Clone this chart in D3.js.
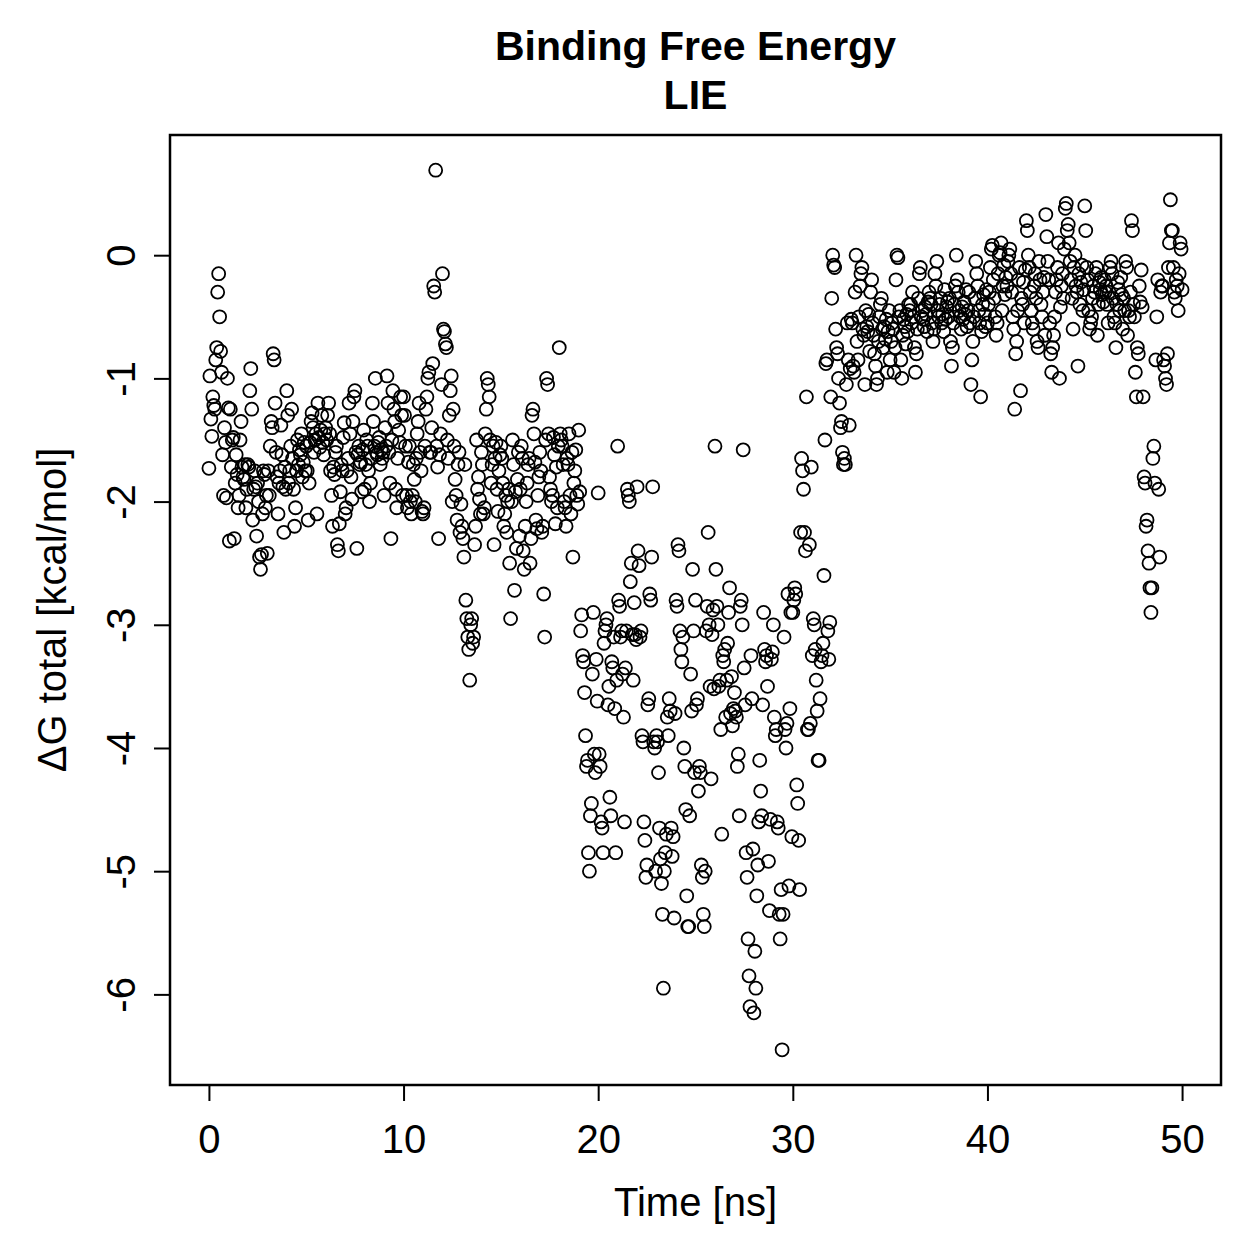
<!doctype html>
<html lang="en">
  <head>
    <meta charset="utf-8">
    <title>Binding Free Energy - LIE</title>
    <script src="https://d3js.org/d3.v7.min.js"></script>
    <style>
      body { margin: 0; background: #fff; }
      text { font-family: "Liberation Sans", Arial, Helvetica, sans-serif; fill: #000; }
    </style>
  </head>
  <body>
    <div id="chart"></div>
    <script>
      // time axis: one frame every 0.05 ns, 0 .. 50 ns
      const timeStep = 0.05;
      const xTicks = [0, 10, 20, 30, 40, 50];
      const yTicks = [-6, -5, -4, -3, -2, -1, 0];

      // dG total [kcal/mol], one row per ns (20 frames each)
      const deltaG = [
        -1.73, -0.98, -1.33, -1.47, -1.15, -1.22, -1.25, -0.85, -0.75, -0.30, -0.15, -0.50, -0.78, -0.95, -1.62, -1.95, -1.40, -1.52, -1.97, -1.00,
        -1.24, -2.32, -1.25, -1.72, -1.50, -1.48, -2.30, -1.85, -1.62, -1.78, -2.05, -1.95, -1.50, -1.35, -1.72, -1.80, -1.82, -1.70, -2.05, -1.90,
        -1.70, -1.72, -1.10, -0.92, -1.25, -2.15, -1.90, -1.75, -1.88, -2.28, -1.85, -2.00, -2.45, -2.55, -2.43, -2.10, -1.75, -1.78, -2.05, -1.95,
        -2.42, -1.75, -1.95, -1.55, -1.35, -1.40, -0.80, -0.85, -1.20, -1.60, -1.80, -2.10, -1.85, -1.75, -1.38, -1.62, -1.88, -2.25, -1.72, -1.90,
        -1.10, -1.30, -1.85, -1.75, -1.55, -1.25, -1.65, -1.90, -2.20, -2.05, -1.75, -1.50, -1.70, -1.58, -1.62, -1.45, -1.80, -1.68, -1.52, -1.75,
        -1.55, -1.75, -2.15, -1.85, -1.52, -1.35, -1.28, -1.40, -1.60, -1.50, -1.45, -2.10, -1.20, -1.48, -1.56, -1.42, -1.30, -1.52, -1.62, -1.45,
        -1.40, -1.50, -1.30, -1.20, -1.45, -1.75, -1.95, -2.20, -1.72, -1.78, -1.60, -1.55, -2.35, -2.40, -2.18, -1.92, -1.70, -1.75, -1.48, -1.36,
        -2.10, -2.05, -1.75, -1.65, -1.20, -1.45, -1.80, -1.98, -1.35, -1.15, -1.10, -1.60, -2.38, -1.62, -1.55, -1.70, -1.68, -1.92, -1.58, -1.42,
        -1.90, -1.70, -1.50, -1.55, -1.75, -2.00, -1.85, -1.65, -1.20, -1.35, -1.55, -1.00, -1.60, -1.62, -1.52, -1.48, -1.70, -1.58, -1.65, -1.60,
        -1.95, -1.40, -1.55, -0.98, -1.20, -1.60, -1.85, -2.30, -1.50, -1.10, -1.25, -1.35, -1.90, -2.05, -1.65, -1.42, -1.52, -1.15, -1.30, -1.95,
        -1.15, -1.30, -1.55, -1.95, -2.05, -1.68, -1.55, -2.00, -2.10, -1.95, -1.70, -1.82, -2.00, -1.65, -1.45, -1.35, -1.20, -1.60, -1.75, -2.08,
        -2.10, -2.05, -1.55, -1.25, -1.15, -1.00, -0.95, -1.60, -1.60, -1.40, -0.88, -0.25, -0.30, 0.69, -1.55, -1.72, -2.30, -1.62, -1.45, -1.05,
        -0.15, -0.60, -0.62, -0.72, -0.75, -1.50, -1.65, -1.30, -1.10, -0.98, -2.00, -1.25, -1.55, -1.82, -1.95, -2.15, -1.70, -1.60, -2.25, -2.02,
        -2.20, -2.30, -2.45, -1.70, -2.80, -2.95, -3.10, -3.20, -3.45, -3.00, -2.95, -3.15, -3.10, -2.35, -2.20, -1.50, -1.90, -1.80, -1.98, -2.10,
        -1.60, -1.70, -2.10, -2.05, -1.45, -1.25, -1.00, -1.05, -1.15, -1.50, -1.85, -1.70, -1.55, -2.35, -1.65, -1.52, -1.90, -2.08, -1.75, -1.62,
        -1.55, -1.65, -1.85, -2.20, -2.10, -1.95, -2.25, -2.00, -1.90, -2.50, -2.95, -2.00, -1.50, -1.70, -2.72, -1.92, -2.38, -1.82, -1.60, -2.28,
        -1.90, -1.55, -1.65, -2.40, -2.55, -2.20, -2.00, -1.85, -1.70, -1.65, -2.50, -2.30, -1.30, -1.25, -1.45, -1.68, -2.15, -2.22, -1.95, -1.80,
        -1.60, -1.75, -2.25, -2.20, -2.75, -3.10, -1.50, -1.00, -1.05, -1.45, -1.80, -1.90, -2.00, -1.95, -1.48, -1.62, -2.18, -1.72, -2.05, -1.55,
        -0.75, -1.45, -1.50, -1.55, -1.70, -2.00, -2.05, -2.20, -1.65, -1.70, -1.45, -1.95, -2.10, -1.60, -2.45, -1.85, -1.75, -1.58, -1.95, -2.02,
        -1.42, -1.92, -3.05, -2.92, -3.25, -3.30, -3.55, -3.90, -4.15, -4.10, -4.85, -5.00, -4.55, -4.45, -3.40, -2.90, -4.05, -4.20, -3.28, -3.62,
        -1.93, -4.05, -4.15, -4.60, -4.65, -4.85, -3.15, -3.05, -3.00, -2.95, -3.65, -3.50, -4.40, -4.55, -3.30, -3.35, -3.10, -3.68, -4.85, -3.45,
        -1.55, -2.80, -2.85, -3.10, -3.05, -3.40, -3.75, -4.60, -3.35, -3.05, -1.90, -1.95, -2.00, -2.65, -2.50, -3.08, -3.45, -2.82, -3.08, -3.12,
        -1.88, -2.40, -2.52, -3.10, -3.05, -3.90, -3.95, -4.60, -4.75, -5.05, -4.95, -3.65, -3.60, -2.75, -2.80, -2.45, -1.88, -3.95, -4.00, -5.00,
        -3.90, -3.95, -4.20, -4.65, -4.90, -5.10, -5.35, -5.95, -5.00, -4.85, -4.70, -3.75, -3.90, -3.60, -3.70, -4.65, -4.88, -4.72, -5.38, -3.72,
        -2.80, -2.85, -2.35, -2.40, -3.05, -3.20, -3.30, -3.10, -4.00, -4.15, -4.50, -5.20, -5.45, -5.45, -4.55, -3.40, -3.70, -2.55, -3.05, -4.20,
        -2.80, -3.65, -3.60, -4.35, -4.15, -4.20, -4.95, -5.05, -5.35, -5.45, -5.00, -3.05, -2.85, -2.25, -3.00, -3.50, -4.25, -3.08, -2.88, -3.52,
        -1.55, -2.55, -2.85, -3.00, -3.50, -3.45, -3.85, -4.70, -3.25, -3.30, -3.20, -3.75, -3.45, -3.15, -2.90, -2.70, -3.72, -3.42, -3.82, -3.68,
        -3.55, -3.70, -3.75, -4.15, -4.05, -4.55, -2.85, -2.80, -3.00, -1.58, -3.35, -3.65, -4.85, -5.05, -5.55, -5.85, -6.10, -3.25, -3.60, -4.82,
        -6.15, -5.65, -5.95, -5.20, -4.95, -4.60, -4.10, -4.35, -4.55, -3.65, -2.90, -3.20, -3.30, -3.25, -3.50, -4.92, -5.32, -4.58, -3.28, -3.22,
        -3.00, -3.75, -3.90, -3.85, -4.60, -4.65, -5.35, -5.55, -5.15, -6.45, -5.35, -3.10, -3.85, -4.00, -3.80, -2.75, -5.12, -3.68, -2.90, -4.72,
        -2.90, -2.80, -2.70, -2.75, -4.30, -4.45, -4.75, -5.15, -2.25, -1.65, -1.75, -1.90, -2.25, -2.40, -1.15, -3.85, -3.85, -2.35, -3.80, -1.72,
        -3.25, -2.95, -3.00, -3.20, -3.45, -3.70, -4.10, -4.10, -3.60, -3.30, -3.25, -3.15, -2.60, -1.50, -0.88, -0.85, -3.05, -3.28, -2.98, -1.15,
        -0.35, 0.00, -0.08, -0.10, -0.60, -0.75, -0.80, -1.00, -1.20, -1.40, -1.35, -1.60, -1.70, -1.65, -1.70, -1.05, -0.55, -0.85, -1.38, -0.92,
        -0.52, -0.55, -0.90, -0.95, -0.30, 0.00, -0.70, -0.85, -0.50, -0.25, -0.15, -0.10, -0.60, -0.65, -1.05, -0.45, -0.58, -0.62, -0.48, -0.78,
        -0.30, -0.20, -0.55, -0.65, -0.80, -0.90, -1.05, -1.00, -0.70, -0.50, -0.40, -0.35, -0.60, -0.75, -0.58, -0.68, -0.52, -0.95, -0.62, -0.45,
        -0.85, -0.70, -0.55, -0.60, -0.95, -0.75, -0.20, 0.00, -0.02, -0.50, -0.45, -0.85, -1.00, -0.65, -0.52, -0.58, -0.72, -0.48, -0.62, -0.40,
        -0.45, -0.40, -0.55, -0.30, -0.50, -0.75, -0.95, -0.80, -0.60, -0.35, -0.15, -0.10, -0.50, -0.45, -0.52, -0.58, -0.42, -0.48, -0.62, -0.38,
        -0.30, -0.35, -0.40, -0.55, -0.70, -0.60, -0.15, -0.25, -0.05, -0.45, -0.50, -0.40, -0.35, -0.55, -0.48, -0.62, -0.28, -0.52, -0.42, -0.38,
        -0.50, -0.35, -0.70, -0.90, -0.75, -0.55, -0.40, -0.25, 0.00, -0.20, -0.30, -0.45, -0.50, -0.60, -0.42, -0.52, -0.38, -0.48, -0.28, -0.58,
        -0.45, -0.30, -0.55, -1.05, -0.85, -0.70, -0.50, -0.35, -0.05, -0.15, -0.25, -0.45, -0.55, -1.15, -0.62, -0.40, -0.32, -0.48, -0.58, -0.28,
        -0.55, -0.40, -0.30, -0.10, 0.05, 0.08, -0.20, -0.35, -0.50, -0.65, -0.55, -0.15, 0.00, 0.02, 0.10, -0.45, -0.25, -0.08, -0.32, -0.18,
        -0.25, -0.05, 0.00, 0.05, -0.15, -0.30, -0.50, -0.60, -1.25, -0.80, -0.70, -0.45, -0.20, -0.10, -1.10, -0.35, -0.40, -0.22, -0.55, -0.12,
        0.28, 0.20, 0.00, -0.10, -0.30, -0.45, -0.55, -0.60, -0.25, -0.15, -0.35, -0.70, -0.75, -0.05, -0.20, -0.40, -0.50, -0.30, -0.18, -0.65,
        0.33, 0.15, -0.05, -0.20, -0.55, -0.80, -0.95, -0.75, -0.65, -0.50, -0.30, -0.20, -0.10, 0.10, -1.00, -0.42, -0.25, -0.15, -0.35, 0.05,
        0.38, 0.42, 0.20, 0.25, 0.10, -0.05, -0.20, -0.35, -0.60, -0.10, 0.00, -0.25, -0.30, -0.90, -0.15, -0.40, -0.22, -0.08, -0.45, -0.28,
        0.40, 0.20, -0.10, -0.20, -0.45, -0.60, -0.55, -0.50, -0.35, -0.25, -0.30, -0.15, -0.10, -0.65, -0.40, -0.22, -0.28, -0.18, -0.32, -0.38,
        -0.20, -0.30, -0.25, -0.40, -0.55, -0.30, -0.10, -0.05, -0.15, -0.35, -0.50, -0.55, -0.75, -0.40, -0.22, -0.28, -0.45, -0.18, -0.32, -0.60,
        -0.35, -0.45, -0.05, -0.10, -0.65, -0.45, -0.50, -0.30, 0.28, 0.20, -0.40, -0.50, -0.95, -1.15, -0.75, -0.80, -0.25, -0.38, -0.12, -0.42,
        -1.15, -1.80, -1.85, -2.20, -2.15, -2.40, -2.50, -2.70, -2.90, -2.70, -1.65, -1.55, -1.85, -0.85, -0.50, -0.20, -1.90, -2.45, -0.30, -0.25,
        -0.25, -0.85, -0.90, -1.00, -1.05, -0.80, -0.10, 0.10, 0.45, 0.20, 0.20, -0.10, -0.30, -0.35, -0.20, -0.25, -0.45, -0.15, 0.10, 0.05,
        -0.28
      ];

      const data = deltaG.map((v, i) => ({ t: i * timeStep, v: v }));

      // plot region, R-like margins
      const W = 1259, H = 1259;
      const box = { left: 170, right: 1221, top: 135, bottom: 1085 };

      const svg = d3.select("#chart")
        .append("svg")
          .attr("width", W)
          .attr("height", H);

      // R pads the data range by 4% on each side
      const pad = ([a, b]) => [a - (b - a) * 0.04, b + (b - a) * 0.04];
      const x = d3.scaleLinear()
        .domain(pad(d3.extent(data, d => d.t)))
        .range([box.left, box.right]);
      const y = d3.scaleLinear()
        .domain(pad(d3.extent(data, d => d.v)))
        .range([box.bottom, box.top]);

      // plain hyphen for negatives, like R
      const fmt = d => String(d);

      // X axis
      const xAxis = svg.append("g")
        .attr("transform", `translate(0, ${box.bottom})`)
        .call(d3.axisBottom(x).tickValues(xTicks).tickSize(16).tickPadding(24).tickFormat(fmt));
      xAxis.select(".domain").remove();
      xAxis.selectAll("line").attr("stroke", "#000").attr("stroke-width", 2);
      xAxis.selectAll("text").attr("font-size", "40px").attr("font-family", null);

      // Y axis, labels rotated like R (las = 0)
      const yAxis = svg.append("g")
        .attr("transform", `translate(${box.left}, 0)`)
        .call(d3.axisLeft(y).tickValues(yTicks).tickSize(16).tickFormat(fmt));
      yAxis.select(".domain").remove();
      yAxis.selectAll("line").attr("stroke", "#000").attr("stroke-width", 2);
      yAxis.selectAll("text")
        .attr("font-size", "40px")
        .attr("font-family", null)
        .attr("x", null)
        .attr("dy", null)
        .attr("text-anchor", "middle")
        .attr("transform", "translate(-35, 0) rotate(-90)");

      // plot frame
      svg.append("rect")
        .attr("x", box.left)
        .attr("y", box.top)
        .attr("width", box.right - box.left)
        .attr("height", box.bottom - box.top)
        .attr("fill", "none")
        .attr("stroke", "#000")
        .attr("stroke-width", 2.5);

      // points (open circles, pch = 1)
      svg.append("g")
        .selectAll("circle")
        .data(data)
        .join("circle")
          .attr("cx", d => x(d.t))
          .attr("cy", d => y(d.v))
          .attr("r", 6.5)
          .attr("fill", "none")
          .attr("stroke", "#000")
          .attr("stroke-width", 1.8);

      // titles
      svg.append("text")
        .attr("x", (box.left + box.right) / 2)
        .attr("y", 60)
        .attr("text-anchor", "middle")
        .attr("font-size", "41px")
        .attr("font-weight", "bold")
        .text("Binding Free Energy");
      svg.append("text")
        .attr("x", (box.left + box.right) / 2)
        .attr("y", 109)
        .attr("text-anchor", "middle")
        .attr("font-size", "41px")
        .attr("font-weight", "bold")
        .text("LIE");

      svg.append("text")
        .attr("x", (box.left + box.right) / 2)
        .attr("y", 1216)
        .attr("text-anchor", "middle")
        .attr("font-size", "40px")
        .text("Time [ns]");

      svg.append("text")
        .attr("transform", `translate(66, ${(box.top + box.bottom) / 2}) rotate(-90)`)
        .attr("text-anchor", "middle")
        .attr("font-size", "40px")
        .text("ΔG total [kcal/mol]");
    </script>
  </body>
</html>
